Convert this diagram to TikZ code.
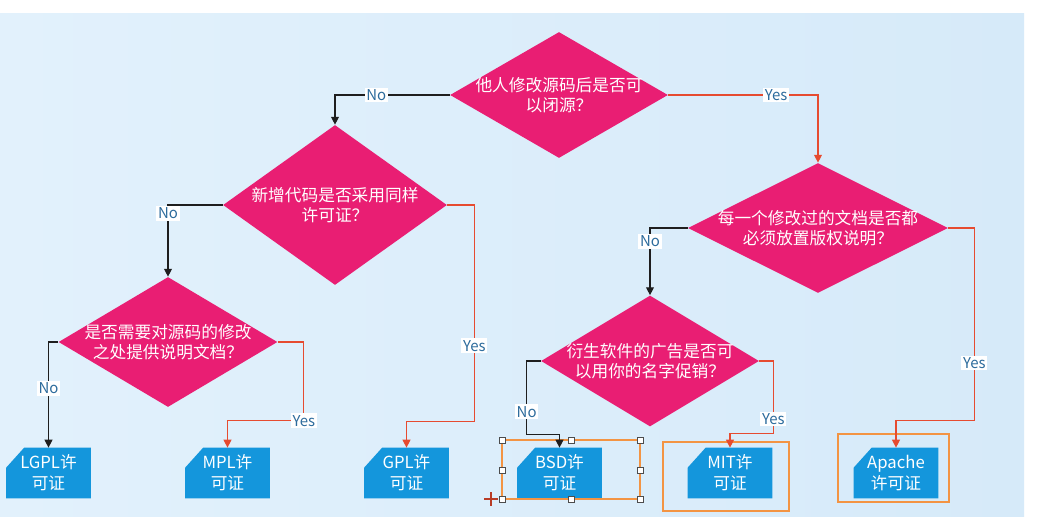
\documentclass[tikz,border=0pt]{standalone}
\usepackage{fontspec}
\setmainfont{Noto Sans CJK SC}
\usetikzlibrary{arrows.meta, positioning, shapes.geometric, calc}
\definecolor{bgleft}{HTML}{E2F1FC}
\definecolor{bgright}{HTML}{D6EAF9}
\definecolor{question}{HTML}{E91E73}
\definecolor{license}{HTML}{1496DC}
\definecolor{yesline}{HTML}{E64B30}
\definecolor{noline}{HTML}{1E1E1E}
\definecolor{labeltext}{HTML}{2C6B9C}
\definecolor{select}{HTML}{F39443}

\begin{document}
\begin{tikzpicture}[x=0.02cm, y=-0.02cm,
  dia/.style={diamond, fill=question, inner sep=0pt},
  qtext/.style={text=white, align=center, font=\fontsize{9.5}{11.4}\selectfont},
  licbox/.style={rectangle, inner sep=0pt, minimum width=1.68cm, minimum height=1cm},
  lictext/.style={text=white, align=center, font=\fontsize{9.5}{12}\selectfont},
  lab/.style={fill=white, text=labeltext, inner sep=1pt, font=\fontsize{8.5}{10}\selectfont},
  noarrow/.style={draw=noline, line width=0.7pt, -{Triangle[width=4.5pt,length=4.5pt]}},
  yesarrow/.style={draw=yesline, line width=0.7pt, -{Triangle[width=4.5pt,length=4.5pt]}},
  selbox/.style={draw=select, line width=1.1pt},
  handle/.style={draw=black!70, fill=white, line width=0.5pt}]
  \useasboundingbox (0,0) rectangle (1063,517);
  % Background
  \fill[white] (0,0) rectangle (1063,517);
  \shade[left color=bgleft, right color=bgright] (0,14) rectangle (1024,517);
  % Questions
  \node[dia, minimum width=4.36cm, minimum height=2.52cm] (q1) at (559,95) {};
  \node[qtext] at (q1) {他人修改源码后是否可\\以闭源？};
  \node[dia, minimum width=4.48cm, minimum height=3.2cm] (q2) at (335,205) {};
  \node[qtext] at (q2) {新增代码是否采用同样\\许可证？};
  \node[dia, minimum width=4.38cm, minimum height=2.6cm] (q3) at (168,342) {};
  \node[qtext] at (q3) {是否需要对源码的修改\\之处提供说明文档？};
  \node[dia, minimum width=5.2cm, minimum height=2.6cm] (q4) at (818,228) {};
  \node[qtext] at (q4) {每一个修改过的文档是否都\\必须放置版权说明？};
  \node[dia, minimum width=4.36cm, minimum height=2.62cm] (q5) at (650,361) {};
  \node[qtext] at (q5) {衍生软件的广告是否可\\以用你的名字促销？};
  % Licenses
  \node[licbox] (lgpl) at (48.5,473) {};
  \node[licbox] (mpl) at (227.5,473) {};
  \node[licbox] (gpl) at (406.5,473) {};
  \node[licbox] (bsd) at (559.5,473) {};
  \node[licbox] (mit) at (730,473) {};
  \node[licbox] (apache) at (896,473) {};
  \foreach \b in {lgpl, mpl, gpl, bsd, mit, apache}
    \fill[license] (\b.south west) -- ($(\b.north west)+(0,20)$) -- ($(\b.north west)+(18,0)$)
      -- (\b.north east) -- (\b.south east) -- cycle;
  \node[lictext] at (lgpl) {LGPL许\\可证};
  \node[lictext] at (mpl) {MPL许\\可证};
  \node[lictext] at (gpl) {GPL许\\可证};
  \node[lictext] at (bsd) {BSD许\\可证};
  \node[lictext] at (mit) {MIT许\\可证};
  \node[lictext] at (apache) {Apache\\许可证};
  % Selection frames
  \draw[selbox] (502,440) rectangle (640,499);
  \draw[selbox] (663,442) rectangle (789,511);
  \draw[selbox] (838,434) rectangle (949,502);
  \foreach \hx/\hy in {502/440, 571/440, 640/440, 502/470, 640/470, 502/499, 571/499, 640/499}
    \draw[handle] (\hx-3,\hy-3) rectangle ++(6,6);
  \draw[draw=yesline!80!black, line width=0.6pt] (484,499) -- (498,499) (491,492) -- (491,506);
  % Arrows
  \draw[noarrow] (q1.west) -| (q2.north) node[lab, pos=0.32] {No};
  \draw[yesarrow] (q1.east) -| (q4.north) node[lab, pos=0.36] {Yes};
  \draw[noarrow] (q2.west) -| (q3.north) node[lab, pos=0.56] {No};
  \draw[yesarrow] (q2.east) -- ++(27,0) |- ($(gpl.north)+(0,-26)$)
    node[lab, pos=0.325] {Yes} -- (gpl.north);
  \draw[noarrow] (q3.west) -| (lgpl.north) node[lab, pos=0.72] {No};
  \draw[yesarrow] (q3.east) -- ++(26,0) |- ($(mpl.north)+(0,-27)$)
    node[lab, pos=0.5] {Yes} -- (mpl.north);
  \draw[noarrow] (q4.west) -| (q5.north) node[lab, pos=0.6] {No};
  \draw[yesarrow] (q4.east) -- ++(26,0) |- ($(apache.north)+(0,-27)$)
    node[lab, pos=0.35] {Yes} -- (apache.north);
  \draw[noarrow] (q5.west) -- ++(-14,0) |- ($(bsd.north)+(0,-13)$)
    node[lab, pos=0.345] {No} -- (bsd.north);
  \draw[yesarrow] (q5.east) -- ++(14,0) |- ($(mit.north)+(0,-14)$)
    node[lab, pos=0.4] {Yes} -- (mit.north);
\end{tikzpicture}
\end{document}
